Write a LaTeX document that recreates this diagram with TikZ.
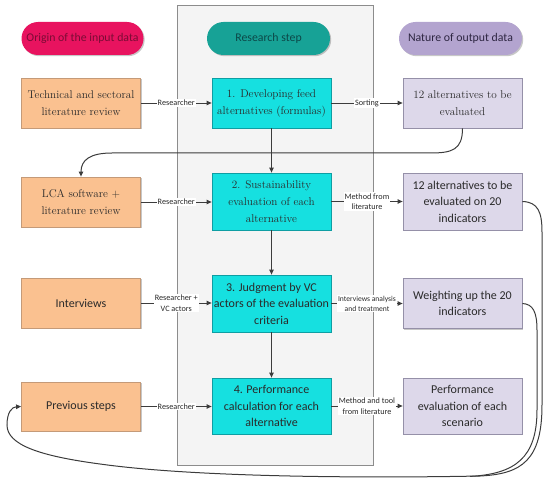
\documentclass[tikz,border=0pt]{standalone}
\usepackage{fontspec}
\newfontfamily\carl{Carlito}
\usetikzlibrary{arrows.meta,shadows}
\definecolor{orF}{HTML}{FAC190}
\definecolor{orD}{HTML}{C49A78}
\definecolor{cyF}{HTML}{16E0E0}
\definecolor{cyD}{HTML}{0E9EA3}
\definecolor{laF}{HTML}{DDD8EA}
\definecolor{laD}{HTML}{9590A8}
\definecolor{pkF}{HTML}{E8135F}
\definecolor{pkT}{HTML}{7A0C35}
\definecolor{tlF}{HTML}{17A296}
\definecolor{tlT}{HTML}{0C4848}
\definecolor{lvF}{HTML}{B3A4CF}
\definecolor{lvT}{HTML}{2E2642}
\definecolor{pnF}{HTML}{F4F4F4}
\definecolor{pnD}{HTML}{8C8C8C}
\definecolor{ln}{HTML}{3C3C3C}
\definecolor{tx}{HTML}{2A2A2A}
\begin{document}
\begin{tikzpicture}[x=1pt,y=-1pt,
 shad/.style={drop shadow={shadow xshift=1.2pt, shadow yshift=-1.2pt, opacity=0.22, fill=black}},
 box/.style={draw, line width=0.8pt, minimum width=119pt, inner xsep=1pt, inner ysep=0pt, align=center, text=tx, shad},
 serfont/.style={font=\rmfamily\fontsize{11.2}{17}\selectfont},
 sanfont/.style={font=\carl\fontsize{12}{16.5}\selectfont},
 inbox/.style={box, fill=orF, draw=orD},
 stepbox/.style={box, fill=cyF, draw=cyD},
 outbox/.style={box, fill=laF, draw=laD},
 head/.style={minimum width=122pt, minimum height=33pt, rounded corners=16.5pt, font=\carl\fontsize{11.8}{14}\selectfont, inner sep=0pt, shad},
 conn/.style={draw=ln, line width=0.9pt, -{Triangle[length=5pt,width=4.5pt]}},
 curve/.style={draw=ln, line width=1pt},
 lab/.style={fill=white, inner sep=1pt, font=\carl\fontsize{8.2}{10.5}\selectfont, text=tx, align=center},
]
\useasboundingbox (0,0) rectangle (550,484);
% panel
\node[draw=pnD, fill=pnF, line width=0.8pt, minimum width=196pt, minimum height=460pt, inner sep=0pt] (panel) at (275,235) {};
% headers
\node[head, fill=pkF, text=pkT] (h1) at (82.5,38.5) {Origin of the input data};
\node[head, fill=tlF, text=tlT, minimum width=123pt] (h2) at (268.5,38.5) {Research step};
\node[head, fill=lvF, text=lvT, minimum width=123pt] (h3) at (460.5,38.5) {Nature of output data};
% row 1
\node[inbox, serfont, minimum height=50pt] (l1) at (81,103) {Technical and sectoral\\literature review};
\node[stepbox, serfont, minimum height=50pt] (c1) at (271.5,103) {1. Developing feed\\alternatives (formulas)};
\node[outbox, serfont, minimum height=50pt] (r1) at (462.5,103) {12 alternatives to be\\evaluated};
% row 2
\node[inbox, serfont, minimum height=50pt] (l2) at (81,202) {LCA software +\\literature review};
\node[stepbox, serfont, minimum height=57pt] (c2) at (271.5,201.5) {2. Sustainability\\evaluation of each\\alternative};
\node[outbox, sanfont, minimum height=57pt] (r2) at (462.5,201.5) {12 alternatives to be\\evaluated on 20\\indicators};
% row 3
\node[inbox, sanfont, minimum height=50pt] (l3) at (81,303) {Interviews};
\node[stepbox, sanfont, minimum height=57pt] (c3) at (271.5,303.5) {3. Judgment by VC\\actors of the evaluation\\criteria};
\node[outbox, sanfont, minimum height=50pt] (r3) at (462.5,303.5) {Weighting up the 20\\indicators};
% row 4
\node[inbox, sanfont, minimum height=49pt] (l4) at (81,406.5) {Previous steps};
\node[stepbox, sanfont, minimum height=56pt] (c4) at (271.5,406) {4. Performance\\calculation for each\\alternative};
\node[outbox, sanfont, minimum height=56pt] (r4) at (462.5,406) {Performance\\evaluation of each\\scenario};
% horizontal connectors
\draw[conn] (l1.east) -- node[lab]{Researcher} (c1.west |- l1.east);
\draw[conn] (c1.east) -- node[lab]{Sorting} (r1.west |- c1.east);
\draw[conn] (l2.east) -- node[lab]{Researcher} (c2.west |- l2.east);
\draw[conn] (c2.east) -- node[lab]{Method from\\literature} (r2.west |- c2.east);
\draw[conn] (l3.east) -- node[lab]{Researcher +\\VC actors} (c3.west |- l3.east);
\draw[conn] (c3.east) -- node[lab, font=\carl\fontsize{7.6}{10}\selectfont]{Interviews analysis\\and treatment} (r3.west |- c3.east);
\draw[conn] (l4.east) -- node[lab]{Researcher} (c4.west |- l4.east);
\draw[conn] (c4.east) -- node[lab]{Method and tool\\from literature} (r4.west |- c4.east);
% vertical connectors
\draw[conn] (c1) -- (c2);
\draw[conn] (c2) -- (c3);
\draw[conn] (c3) -- (c4);
% feedback curves
\draw[curve, -{Triangle[length=5pt,width=4.5pt]}] (r1.south) .. controls (462.5,150) and (452,153) .. (430,153) -- (112,153) .. controls (90,153) and (81,160) .. (l2.north);
\coordinate (merge) at (470,476.4);
\draw[curve, -{Triangle[length=5pt,width=4.5pt]}] (r2.east) .. controls (538,202) and (542,212) .. (542,232) -- (542,405) .. controls (542,460) and (522,474) .. (480,476) .. controls (380,478) and (200,478) .. (100,464) .. controls (40,456) and (7,445) .. (7,425) .. controls (7,412) and (12,407) .. (l4.west);
\draw[curve] (r3.east) .. controls (533,304) and (537,312) .. (537,330) -- (537,410) .. controls (537,458) and (515,474) .. (merge);
\end{tikzpicture}
\end{document}
